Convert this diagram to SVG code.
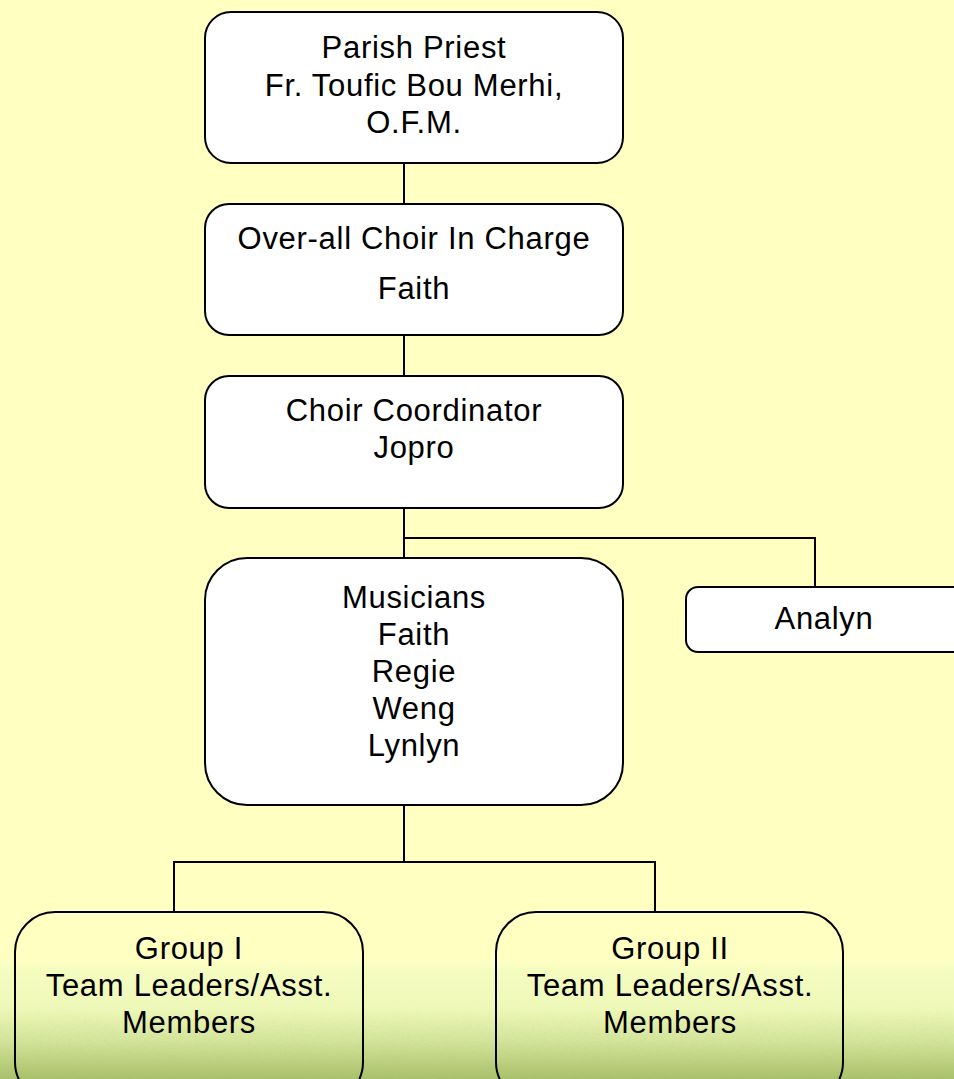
<svg xmlns="http://www.w3.org/2000/svg" width="954" height="1079" viewBox="0 0 954 1079">
<defs>
<linearGradient id="bg" x1="0" y1="0" x2="0" y2="1079" gradientUnits="userSpaceOnUse">
<stop offset="0" stop-color="#ffffc2"/>
<stop offset="0.89" stop-color="#ffffc2"/>
<stop offset="0.9" stop-color="#f4fcc0"/>
<stop offset="0.935" stop-color="#eef8b8"/>
<stop offset="0.965" stop-color="#d4e49a"/>
<stop offset="1" stop-color="#a9c06a"/>
</linearGradient>
<filter id="grain" x="0" y="0" width="1" height="1">
<feTurbulence type="fractalNoise" baseFrequency="0.25 0.5" numOctaves="2" seed="3"/>
<feColorMatrix type="matrix" values="0 0 0 0 0.45  0 0 0 0 0.6  0 0 0 0 0.2  0 0 0 0.6 -0.25"/>
</filter>
<linearGradient id="fade" x1="0" y1="1000" x2="0" y2="1079" gradientUnits="userSpaceOnUse">
<stop offset="0" stop-color="#fff" stop-opacity="0"/>
<stop offset="1" stop-color="#fff" stop-opacity="1"/>
</linearGradient>
<mask id="gm"><rect x="0" y="1000" width="954" height="79" fill="url(#fade)"/></mask>
</defs>
<style>
.box{fill:#fff;stroke:#000;stroke-width:2}
.open{fill:none;stroke:#000;stroke-width:2}
.t{font-family:"Liberation Sans",Arial,sans-serif;font-size:31px;fill:#000;text-anchor:middle;letter-spacing:0.7px}
.c{fill:none;stroke:#000;stroke-width:2}
</style>
<rect x="0" y="0" width="954" height="1079" fill="url(#bg)"/>
<rect x="0" y="1000" width="954" height="79" filter="url(#grain)" mask="url(#gm)"/>
<g id="connectors">
<path class="c" d="M404 163V204"/>
<path class="c" d="M404 335V376"/>
<path class="c" d="M404 508V558M404 538H815V587"/>
<path class="c" d="M404 805V862M174 912V862H655V912"/>
</g>
<g id="parish-priest">
<rect class="box" x="205" y="12" width="418" height="151" rx="26"/>
<text class="t" x="414" y="58">Parish Priest</text>
<text class="t" x="414" y="96">Fr. Toufic Bou Merhi,</text>
<text class="t" x="414" y="133">O.F.M.</text>
</g>
<g id="overall-choir">
<rect class="box" x="205" y="204" width="418" height="131" rx="24"/>
<text class="t" x="414" y="249">Over-all Choir In Charge</text>
<text class="t" x="414" y="299">Faith</text>
</g>
<g id="choir-coordinator">
<rect class="box" x="205" y="376" width="418" height="132" rx="24"/>
<text class="t" x="414" y="421">Choir Coordinator</text>
<text class="t" x="414" y="458">Jopro</text>
</g>
<g id="musicians">
<rect class="box" x="205" y="558" width="418" height="247" rx="42"/>
<text class="t" x="414" y="608">Musicians</text>
<text class="t" x="414" y="645">Faith</text>
<text class="t" x="414" y="682">Regie</text>
<text class="t" x="414" y="719">Weng</text>
<text class="t" x="414" y="756">Lynlyn</text>
</g>
<g id="analyn">
<rect class="box" x="686" y="587" width="290" height="65" rx="12"/>
<text class="t" x="824" y="629">Analyn</text>
</g>
<g id="group-1">
<rect class="open" x="15" y="912" width="348" height="190" rx="40"/>
<text class="t" x="189" y="959">Group I</text>
<text class="t" x="189" y="996">Team Leaders/Asst.</text>
<text class="t" x="189" y="1033">Members</text>
</g>
<g id="group-2">
<rect class="open" x="496" y="912" width="347" height="190" rx="40"/>
<text class="t" x="670" y="959">Group II</text>
<text class="t" x="670" y="996">Team Leaders/Asst.</text>
<text class="t" x="670" y="1033">Members</text>
</g>
</svg>
